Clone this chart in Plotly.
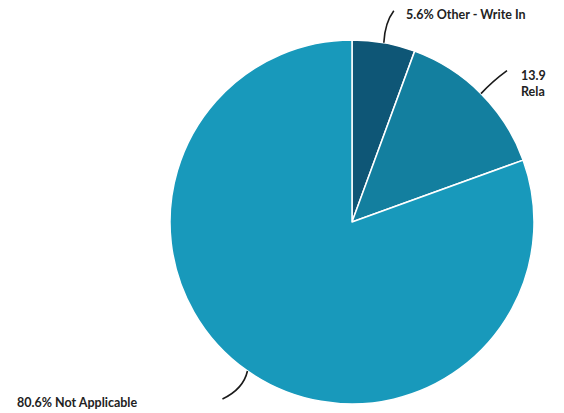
import math
import plotly.graph_objects as go

labels = ["Other - Write In", "Rela", "Not Applicable"]
values = [5.6, 13.9, 80.6]
colors = ["#0e5676", "#137f9f", "#1899bb"]
label_texts = ["5.6% Other - Write In", "13.9<br>Rela", "80.6% Not Applicable"]

W, H = 564, 413
OFF = 8  # page body margin in the browser
cx, cy, r = 352 - OFF, 222 - OFF, 182  # pie centre / radius in pixels (layout)

fig = go.Figure(go.Pie(
    labels=labels, values=values, sort=False, direction="clockwise", rotation=0,
    marker=dict(colors=colors, line=dict(color="white", width=1.5)),
    textinfo="none", hoverinfo="label+percent", showlegend=False,
    domain=dict(x=[(cx - r) / W, (cx + r) / W], y=[1 - (cy + r) / H, 1 - (cy - r) / H]),
))

def px(x, y):
    return x / W, 1 - y / H

# leader line geometry (pixel offsets from slice mid-point on edge): (dx_ctrl, dy_ctrl, dx_end, dy_end)
leaders = [(1, -20, 10, -32), (11, -12, 26, -23), (-4, 18, -25, 28)]
text_pos = [(404 - OFF, 15 - OFF, "left"), (519 - OFF, 83 - OFF, "left"), (15 - OFF, 402 - OFF, "left")]

total = sum(values)
cum = 0
shapes = []
annotations = []
for v, txt, ld, tp in zip(values, label_texts, leaders, text_pos):
    mid = (cum + v / 2) / total * 2 * math.pi
    cum += v
    x0 = cx + r * math.sin(mid)
    y0 = cy - r * math.cos(mid)
    cxp, cyp = x0 + ld[0], y0 + ld[1]
    ex, ey = x0 + ld[2], y0 + ld[3]
    a = px(x0, y0); b = px(cxp, cyp); c = px(ex, ey)
    shapes.append(dict(type="path", xref="paper", yref="paper",
                       path=f"M {a[0]},{a[1]} Q {b[0]},{b[1]} {c[0]},{c[1]}",
                       line=dict(color="#1a1a1a", width=1.6)))
    p = px(tp[0], tp[1])
    annotations.append(dict(x=p[0], y=p[1], xref="paper", yref="paper", text=txt,
                            showarrow=False, xanchor=tp[2], yanchor="middle", align="left",
                            font=dict(family="Lato", size=12.5, color="#222222", weight="bold")))

fig.update_layout(
    width=W, height=H, margin=dict(l=0, r=0, t=0, b=0),
    paper_bgcolor="white", plot_bgcolor="white",
    shapes=shapes, annotations=annotations,
)
fig.write_html("out.html")
